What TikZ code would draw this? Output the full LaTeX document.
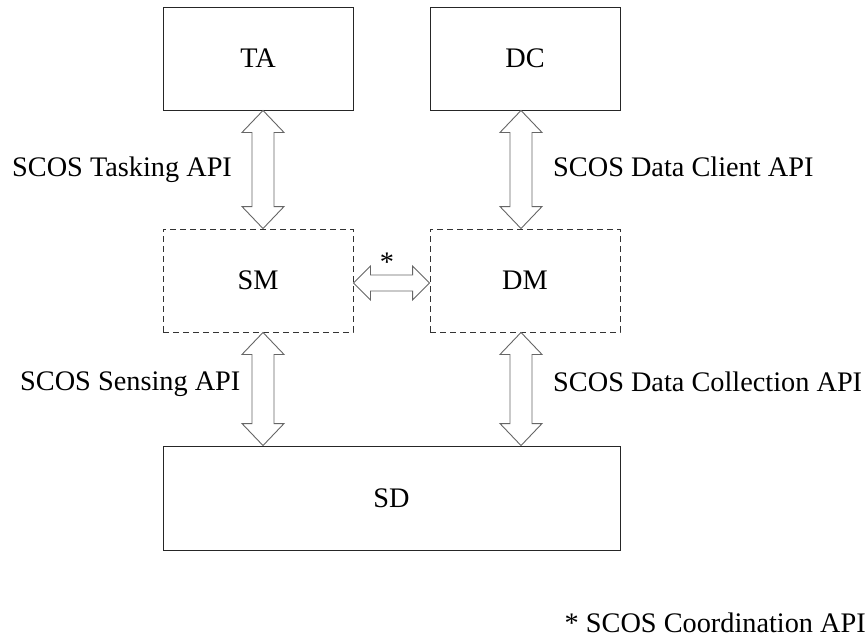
\documentclass[tikz,border=0pt]{standalone}
\usepackage{fontspec}
\setmainfont{Liberation Serif}
\usetikzlibrary{calc}
\tikzset{
  box/.style={draw=black!85, line width=0.9pt, minimum width=190pt, minimum height=103pt, inner sep=0pt, font=\fontsize{28.3}{34}\selectfont},
  dbox/.style={box, dashed, dash pattern=on 6pt off 4pt, draw=black!80},
  lbl/.style={inner sep=0pt, font=\fontsize{28.3}{34}\selectfont},
  fat/.style={draw=black!60, line width=0.9pt, fill=white, line join=miter}
}
\newcommand\fatvert[2]{\draw[fat] (#1) -- ++(21,22) -- ++(-10,0) -- ($(#2)+(11,-22)$) -- ++(10,0) -- (#2) -- ++(-21,-22) -- ++(10,0) -- ($(#1)+(-11,22)$) -- ++(-10,0) -- cycle;}
\begin{document}
\begin{tikzpicture}[x=1pt,y=-1pt]
\useasboundingbox (0,0) rectangle (867,640);
\node[box] (TA) at (258,58.5) {TA};
\node[box] (DC) at (525,58.5) {DC};
\node[dbox] (SM) at (258,280.5) {SM};
\node[dbox] (DM) at (525,280.5) {DM};
\node[box, minimum width=457pt, minimum height=104pt] (SD) at (391.5,498) {SD};
% arrow end points
\coordinate (a1) at ($(TA.south)+(5,0)$);
\coordinate (a2) at ($(SM.north)+(5,0)$);
\coordinate (b1) at ($(DC.south)+(-4,0)$);
\coordinate (b2) at ($(DM.north)+(-4,0)$);
\coordinate (c1) at ($(SM.south)+(5,0)$);
\coordinate (c2) at ($(SD.north -| SM.south)+(5,0)$);
\coordinate (d1) at ($(DM.south)+(-4,0)$);
\coordinate (d2) at ($(SD.north -| DM.south)+(-4,0)$);
\coordinate (h1) at ($(SM.east)+(0,2.5)$);
\coordinate (h2) at ($(DM.west)+(0,2.5)$);
\fatvert{a1}{a2}
\fatvert{b1}{b2}
\fatvert{c1}{c2}
\fatvert{d1}{d2}
\draw[fat] (h1) -- ++(17,-17) -- ++(0,9) -- ($(h2)+(-17,-8)$) -- ++(0,-9) -- (h2) -- ++(-17,17) -- ++(0,-9) -- ($(h1)+(17,8)$) -- ++(0,9) -- cycle;
\node[lbl] (star) at (387,262) {*};
\node[lbl, anchor=base west] (l1) at (12,176) {SCOS Tasking API};
\node[lbl, anchor=base west] (l2) at (553,176) {SCOS Data Client API};
\node[lbl, anchor=base west] (l3) at (20,390) {SCOS Sensing API};
\node[lbl, anchor=base west] (l4) at (553,391) {SCOS Data Collection API};
\node[lbl, anchor=base east] (l5) at (866,632) {* SCOS Coordination API};
\end{tikzpicture}
\end{document}
